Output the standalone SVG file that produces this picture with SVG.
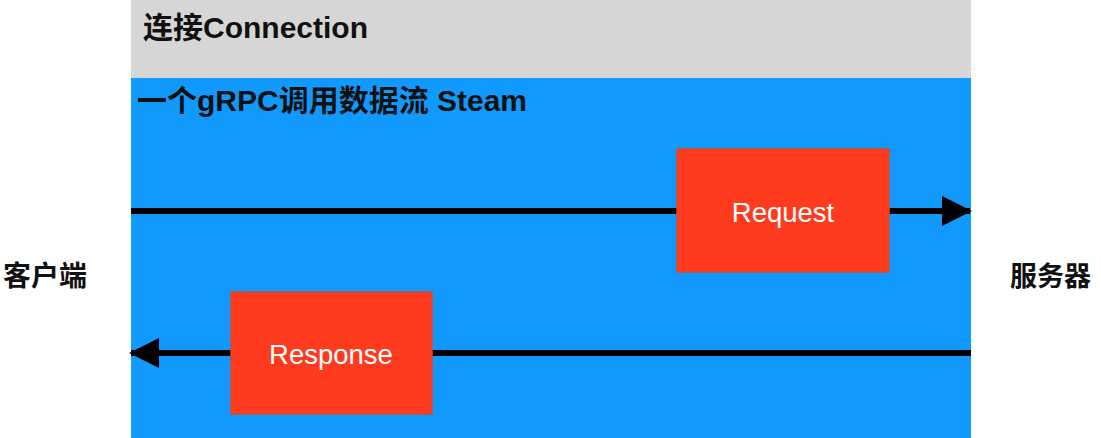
<svg xmlns="http://www.w3.org/2000/svg" width="1101" height="438" viewBox="0 0 1101 438">
<defs>
<style>
.t{font-family:"Liberation Sans","Noto Sans CJK SC",sans-serif;font-weight:bold;fill:#111;}
.box{fill:#FE3B1E;stroke:#D9482E;stroke-width:1.5;}
.lbl{font-family:"Liberation Sans",Arial,sans-serif;font-size:27.5px;fill:#fff;text-anchor:middle;}
.conn{stroke:#000;stroke-width:6;fill:none;}
</style>
<marker id="arr" viewBox="0 0 30 30" refX="28" refY="15" markerWidth="30" markerHeight="30" markerUnits="userSpaceOnUse" orient="auto">
<path d="M0,0 L30,15 L0,30 Z" fill="#000"/>
</marker>
</defs>
<rect width="1101" height="438" fill="#fff"/>
<g id="connection">
<rect x="131" y="0" width="840" height="78" fill="#D6D6D6"/>
<text class="t" x="143" y="38" font-size="30">连接Connection</text>
</g>
<g id="stream">
<rect x="131" y="78" width="840" height="360" fill="#1199FE"/>
<text class="t" x="137" y="111" font-size="30">一个gRPC调用数据流 Steam</text>
</g>
<g id="connectors">
<line class="conn" x1="131" y1="211" x2="970" y2="211" marker-end="url(#arr)"/>
<line class="conn" x1="971" y1="353" x2="131" y2="353" marker-end="url(#arr)"/>
</g>
<g id="request">
<rect class="box" x="677" y="149" width="212" height="123"/>
<text class="lbl" x="783" y="222">Request</text>
</g>
<g id="response">
<rect class="box" x="231" y="292" width="201" height="122"/>
<text class="lbl" x="331" y="364">Response</text>
</g>
<g id="client">
<text class="t" x="3" y="286" font-size="28">客户端</text>
</g>
<g id="server">
<text class="t" x="1010" y="286" font-size="27">服务器</text>
</g>
</svg>
